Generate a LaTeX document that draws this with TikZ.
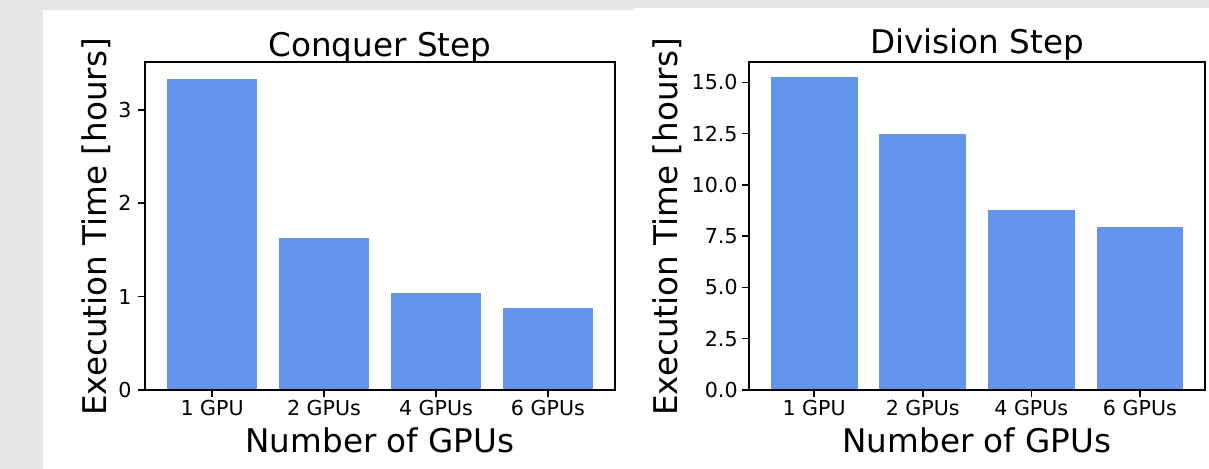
\documentclass[tikz,border=0pt]{standalone}
\usepackage{fontspec}
\setmainfont{DejaVu Sans}
\definecolor{bggray}{RGB}{230,230,230}
\definecolor{barblue}{HTML}{6495ED}
\tikzset{
  barfill/.style={fill=barblue},
  spine/.style={draw=black, line width=0.8pt},
  tickline/.style={draw=black, line width=0.8pt},
  titletext/.style={inner sep=0pt, anchor=base, font=\fontsize{16.3}{19}\selectfont},
  labeltext/.style={inner sep=0pt, anchor=base, font=\fontsize{16.3}{19}\selectfont},
  ylabeltext/.style={inner sep=0pt, anchor=center, rotate=90, font=\fontsize{16.3}{19}\selectfont},
  xticktext/.style={inner sep=0pt, anchor=base, font=\fontsize{10.3}{12}\selectfont},
  yticktext/.style={inner sep=0pt, anchor=east, font=\fontsize{10.3}{12}\selectfont},
}
\begin{document}
\begin{tikzpicture}[x=0.5pt,y=-0.5pt]
\useasboundingbox (0,0) rectangle (1209,469);
\fill[bggray] (0,0) rectangle (1209,469);
\fill[white] (43,10) rectangle (633,469);
\fill[white] (633,8) rectangle (1209,469);

% ---------- Left panel: Conquer Step ----------
% scale: y = 390 - v*93.33 ; x centers 212.1 + 111.9 i, width 89.5
\fill[barfill] (167.4,390) rectangle (256.9,79);
\fill[barfill] (279.3,390) rectangle (368.8,238);
\fill[barfill] (391.2,390) rectangle (480.7,293);
\fill[barfill] (503.1,390) rectangle (592.6,308);
\draw[spine] (145,62) rectangle (615,390);
\foreach \v/\yy in {0/390,1/296.7,2/203.3,3/110}{
  \draw[tickline] (138,\yy) -- (145,\yy);
  \node[yticktext] (ly\v) at (132,\yy) {\v};
}
\foreach \xx/\lab/\nm in {212.1/1 GPU/a,324.0/2 GPUs/b,436.0/4 GPUs/c,547.9/6 GPUs/d}{
  \draw[tickline] (\xx,390) -- (\xx,397);
  \node[xticktext] (lx\nm) at (\xx,416) {\lab};
}
\node[titletext] (ltitle) at (380,57) {Conquer Step};
\node[labeltext] (lxlabel) at (380,453) {Number of GPUs};
\node[ylabeltext] (lylabel) at (96,227) {Execution Time [hours]};

% ---------- Right panel: Division Step ----------
% scale: y = 390 - v*20.5 ; x centers 814.1 + 108.57 i, width 86.9
\fill[barfill] (770.7,390) rectangle (857.6,77.5);
\fill[barfill] (879.3,390) rectangle (966.2,134);
\fill[barfill] (987.9,390) rectangle (1074.8,210);
\fill[barfill] (1096.5,390) rectangle (1183.4,227);
\draw[spine] (749,62) rectangle (1205,390);
\foreach \v/\yy/\nm in {0.0/390/a,2.5/338.7/b,5.0/287.5/c,7.5/236.2/d,10.0/185/e,12.5/133.7/f,15.0/82.5/g}{
  \draw[tickline] (742,\yy) -- (749,\yy);
  \node[yticktext] (ry\nm) at (738,\yy) {\v};
}
\foreach \xx/\lab/\nm in {814.1/1 GPU/a,922.7/2 GPUs/b,1031.3/4 GPUs/c,1139.9/6 GPUs/d}{
  \draw[tickline] (\xx,390) -- (\xx,397);
  \node[xticktext] (rx\nm) at (\xx,416) {\lab};
}
\node[titletext] (rtitle) at (977,53.5) {Division Step};
\node[labeltext] (rxlabel) at (977,453) {Number of GPUs};
\node[ylabeltext] (rylabel) at (667,227) {Execution Time [hours]};
\end{tikzpicture}
\end{document}
